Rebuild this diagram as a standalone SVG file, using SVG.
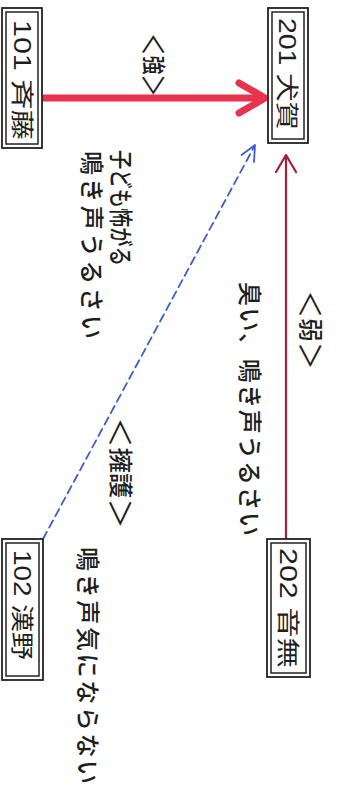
<svg xmlns="http://www.w3.org/2000/svg" width="345" height="796" viewBox="0 0 345 796">
<defs>
<style>
.bo{fill:#fff;stroke:#222;stroke-width:1.8}
.bi{fill:none;stroke:#222;stroke-width:1.5}
.t{font-family:"Liberation Sans","Noto Sans CJK JP",sans-serif;font-size:23px;fill:#1e1e1e;dominant-baseline:central}
.l{font-family:"Noto Sans CJK JP",sans-serif;font-size:24px;font-weight:500;fill:#1e1e1e;dominant-baseline:central}
.br{font-size:29px;font-weight:400}
</style>
</defs>
<rect width="345" height="796" fill="#fff"/>
<g id="connectors" fill="none" stroke-linecap="round" stroke-linejoin="round">
<line x1="42" y1="98" x2="263" y2="98" stroke="#e8334f" stroke-width="7"/>
<polyline points="239,83 265,98 239,113" stroke="#e8334f" stroke-width="7"/>
<line x1="43" y1="539" x2="254" y2="147" stroke="#3a5fcd" stroke-width="1.8" stroke-dasharray="8,5"/>
<polyline points="241.5,155 255,145 254,162" stroke="#3a5fcd" stroke-width="1.8"/>
<line x1="286" y1="539" x2="286" y2="157" stroke="#a3203a" stroke-width="2.2"/>
<polyline points="276,172 286,155 296,172" stroke="#a3203a" stroke-width="2.2"/>
</g>
<g id="n101">
<rect class="bo" x="2" y="8" width="40" height="140"/>
<rect class="bi" x="6" y="12" width="32" height="132"/>
<text class="t" transform="translate(22,20) rotate(90)" textLength="120" lengthAdjust="spacingAndGlyphs">101  斉藤</text>
</g>
<g id="n201">
<rect class="bo" x="268" y="8" width="40" height="135"/>
<rect class="bi" x="272" y="12" width="32" height="127"/>
<text class="t" transform="translate(287,18) rotate(90)" textLength="112" lengthAdjust="spacingAndGlyphs">201 犬賀</text>
</g>
<g id="n102">
<rect class="bo" x="2" y="539" width="41" height="141"/>
<rect class="bi" x="6" y="543" width="33" height="133"/>
<text class="t" transform="translate(22,550) rotate(90)" textLength="110" lengthAdjust="spacingAndGlyphs">102  漢野</text>
</g>
<g id="n202">
<rect class="bo" x="267" y="539" width="43" height="138"/>
<rect class="bi" x="271" y="543" width="35" height="130"/>
<text class="t" transform="translate(288,548) rotate(90)" textLength="120" lengthAdjust="spacingAndGlyphs">202  音無</text>
</g>
<g id="labels">
<text class="l" transform="translate(155,33) rotate(90)" textLength="64" lengthAdjust="spacingAndGlyphs"><tspan class="br">＜</tspan>強<tspan class="br">＞</tspan></text>
<text class="l" transform="translate(122,150) rotate(90)" textLength="116" lengthAdjust="spacingAndGlyphs">子ども怖がる</text>
<text class="l" transform="translate(93,151) rotate(90)" textLength="188">鳴き声うるさい</text>
<text class="l" transform="translate(312,290) rotate(90)" textLength="80" lengthAdjust="spacingAndGlyphs"><tspan class="br">＜</tspan>弱<tspan class="br">＞</tspan></text>
<text class="l" transform="translate(251,282) rotate(90)" textLength="254">臭い、鳴き声うるさい</text>
<text class="l" transform="translate(122,417) rotate(90)" textLength="112" lengthAdjust="spacingAndGlyphs"><tspan class="br">＜</tspan>擁護<tspan class="br">＞</tspan></text>
<text class="l" transform="translate(89,547) rotate(90)" textLength="237">鳴き声気にならない</text>
</g>
</svg>
